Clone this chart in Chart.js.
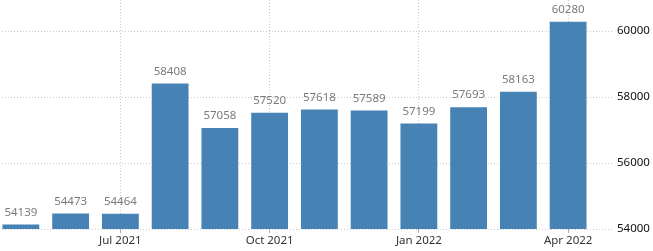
<!DOCTYPE html>
<html>
<head>
<meta charset="utf-8">
<script src="https://cdn.jsdelivr.net/npm/chart.js@4/dist/chart.umd.min.js"></script>
<style>
  html, body { margin: 0; padding: 0; background: #fff; }
  #wrap { width: 653px; height: 251px; overflow: hidden; position: relative; }
  #barChart { position: absolute; left: -4px; top: 0; }
</style>
</head>
<body>
<div id="wrap"><canvas id="barChart" width="657" height="251"></canvas></div>
<script>
// monthly values, May 2021 - Apr 2022
const months = ['May 2021', 'Jun 2021', 'Jul 2021', 'Aug 2021', 'Sep 2021', 'Oct 2021',
                'Nov 2021', 'Dec 2021', 'Jan 2022', 'Feb 2022', 'Mar 2022', 'Apr 2022'];
const values = [54139, 54473, 54464, 58408, 57058, 57520, 57618, 57589, 57199, 57693, 58163, 60280];
const shownMonths = ['Jul 2021', 'Oct 2021', 'Jan 2022', 'Apr 2022'];
const yTicks = [54000, 56000, 58000, 60000];

const FONT = '"Noto Sans", "Open Sans", sans-serif';

// value labels above each bar
const valueLabels = {
  id: 'valueLabels',
  afterDatasetsDraw(chart) {
    const ctx = chart.ctx;
    const meta = chart.getDatasetMeta(0);
    ctx.save();
    ctx.font = '11.5px ' + FONT;
    ctx.fillStyle = '#7a7a7a';
    ctx.textAlign = 'center';
    ctx.textBaseline = 'middle';
    meta.data.forEach((bar, i) => {
      ctx.fillText(String(values[i]), bar.x, bar.y - 12);
    });
    ctx.restore();
  }
};

const isShown = (i) => shownMonths.includes(months[i]);

new Chart(document.getElementById('barChart').getContext('2d'), {
  type: 'bar',
  data: {
    labels: months,
    datasets: [{
      data: values,
      backgroundColor: '#4682b4',
      barPercentage: 0.74,
      categoryPercentage: 1.0
    }]
  },
  options: {
    responsive: false,
    animation: false,
    layout: { padding: 0 },
    plugins: {
      legend: { display: false },
      tooltip: { enabled: false }
    },
    scales: {
      x: {
        offset: true,
        border: { display: false, dash: [1, 2] },
        grid: {
          offset: false,
          color: (c) => isShown(c.index) ? '#c8c8c8' : 'rgba(0,0,0,0)',
          tickColor: (c) => isShown(c.index) ? '#b0b0b0' : 'rgba(0,0,0,0)',
          tickBorderDash: [],
          tickLength: 4,
          lineWidth: 1
        },
        ticks: {
          autoSkip: false,
          maxRotation: 0,
          padding: 1,
          color: '#333',
          font: { family: FONT, size: 11.5 },
          callback: function (v, i) { return isShown(i) ? months[i] : ''; }
        },
        afterFit: (s) => {
          s.height = 22;
          s.paddingLeft = 0;
          s.paddingRight = 0;
        }
      },
      y: {
        position: 'right',
        min: 54000,
        max: 60940,
        border: { display: false, dash: [1, 2] },
        grid: {
          color: '#c8c8c8',
          tickColor: '#c8c8c8',
          tickBorderDash: [1, 2],
          tickLength: 19,
          lineWidth: 1
        },
        ticks: {
          padding: 5,
          color: '#111',
          font: { family: FONT, size: 11.5 },
          callback: (v) => String(v)
        },
        afterBuildTicks: (s) => {
          s.ticks = yTicks.map((v) => ({ value: v }));
        },
        afterFit: (s) => {
          s.width = 60;
          s.paddingTop = 0;
          s.paddingBottom = 0;
        }
      }
    }
  },
  plugins: [valueLabels]
});
</script>
</body>
</html>
